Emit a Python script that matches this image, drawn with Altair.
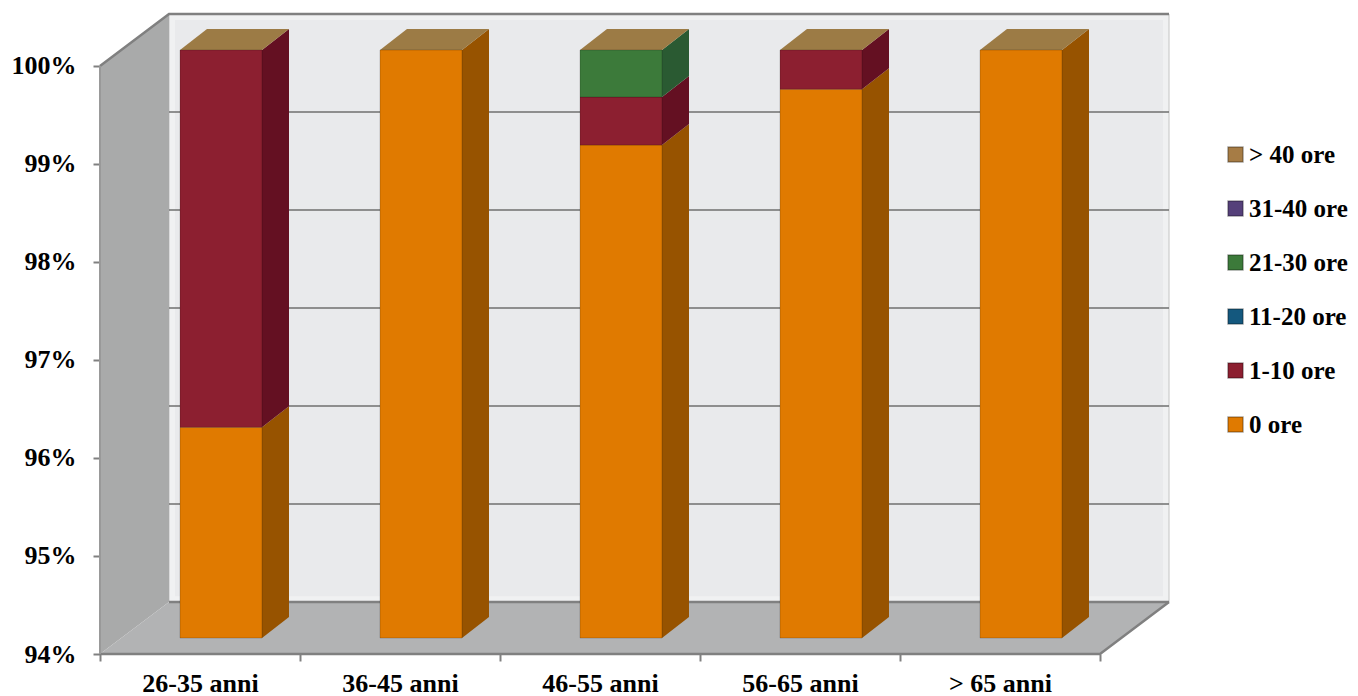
import altair as alt
import pandas as pd

categories = ["26-35 anni", "36-45 anni", "46-55 anni", "56-65 anni", "> 65 anni"]
series = ["> 40 ore", "31-40 ore", "21-30 ore", "11-20 ore", "1-10 ore", "0 ore"]
front_colors = ["#a67c45", "#55407a", "#3c7a3a", "#14587e", "#8c1f30", "#e07a00"]
side_colors = ["#7a5a30", "#3c2c58", "#2a5a32", "#0e4060", "#641022", "#975300"]
v_0 = [96.15, 100, 99.03, 99.6, 100]
v_1_10 = [3.85, 0, 0.49, 0.4, 0]
v_11_20 = [0, 0, 0, 0, 0]
v_21_30 = [0, 0, 0.48, 0, 0]
v_31_40 = [0, 0, 0, 0, 0]
v_40 = [0, 0, 0, 0, 0]
pct_ticks = [94, 95, 96, 97, 98, 99, 100]
TOP_COLOR = "#9c7b45"
FLOOR = "#b2b3b4"
WALL_SIDE = "#a9aaaa"
EDGE = "#808080"

# pseudo-3D projection, expressed in data units
WALL_DX, WALL_DY = 0.345, 0.53
BAR_DX, BAR_DY = 0.135, 0.214
BAR_LEFT, BAR_W, BAR_LIFT = 0.4, 0.41, 0.163
Y0, Y1 = 94, 100
XMAX, YMAX = 5.35, 100.53

xs = alt.Scale(domain=[0, XMAX], nice=False, zero=False)
ys = alt.Scale(domain=[Y0, YMAX], nice=False, zero=False)
X = alt.X("x:Q", scale=xs, axis=None)
Y = alt.Y("y:Q", scale=ys, axis=None, stack=None)

columns = [v_0, v_1_10, v_11_20, v_21_30, v_31_40, v_40]
names = series[::-1]
sc = dict(zip(series, side_colors))

fronts, sides, tops = [], [], []
for i, cat in enumerate(categories):
    total = 0
    x0 = i + BAR_LEFT
    x1 = x0 + BAR_W
    for name, col in zip(names, columns):
        v = col[i]
        if v <= 0:
            continue
        lo = max(total, Y0) + BAR_LIFT
        total += v
        hi = total + BAR_LIFT
        fronts.append(dict(x=x0, x2=x1, y=lo, y2=hi, s=name))
        sid = f"{i}-{name}"
        sides.append(dict(x=x1, y=lo, y2=hi, id=sid, c=sc[name]))
        sides.append(dict(x=x1 + BAR_DX, y=lo + BAR_DY, y2=hi + BAR_DY, id=sid, c=sc[name]))
    t = Y1 + BAR_LIFT
    tid = f"t{i}"
    tops += [
        dict(x=x0, y=t, y2=t, id=tid),
        dict(x=x0 + BAR_DX, y=t, y2=t + BAR_DY, id=tid),
        dict(x=x1, y=t, y2=t + BAR_DY, id=tid),
        dict(x=x1 + BAR_DX, y=t + BAR_DY, y2=t + BAR_DY, id=tid),
    ]

back = Y0 + WALL_DY
top = Y1 + WALL_DY
right = 5 + WALL_DX

wall = alt.Chart(pd.DataFrame([dict(x=WALL_DX, x2=right, y=back, y2=top)])).mark_rect(
    color="#f0f1f2", stroke="#c4c4c4", strokeWidth=1
).encode(x=alt.X("x:Q", scale=xs, axis=alt.Axis(
    orient="bottom", values=[0, 1, 2, 3, 4, 5], labels=False, domain=False, grid=False, title=None,
    tickColor=EDGE, tickWidth=2, tickSize=7)),
    x2="x2:Q",
    y=alt.Y("y:Q", scale=ys, stack=None, axis=alt.Axis(
        orient="left", values=pct_ticks, labelExpr="datum.value + '%'", domain=False, grid=False, title=None,
        tickColor=EDGE, tickWidth=2, tickSize=7, labelPadding=17, labelFont="Liberation Serif",
        labelFontWeight="bold", labelFontSize=26, labelColor="#000")),
    y2="y2:Q")

inner = alt.Chart(pd.DataFrame([dict(x=WALL_DX + 0.03, x2=right - 0.03, y=back + 0.06, y2=top - 0.06)])).mark_rect(
    color="#e9eaec"
).encode(x=X, x2="x2:Q", y=Y, y2="y2:Q")

grid_df = pd.DataFrame([dict(x=WALL_DX, x2=right, y=v + WALL_DY) for v in pct_ticks[1:-1]])
grid = alt.Chart(grid_df).mark_rule(color="#6f6f6f", strokeWidth=1.6).encode(x=X, x2="x2:Q", y=Y)

left_wall = alt.Chart(pd.DataFrame([
    dict(x=0, y=Y0, y2=Y1), dict(x=WALL_DX, y=back, y2=top)
])).mark_area(color=WALL_SIDE, orient="vertical").encode(x=X, y=Y, y2="y2:Q")

floor = alt.Chart(pd.DataFrame([
    dict(x=0, y=Y0, y2=Y0), dict(x=WALL_DX, y=Y0, y2=back),
    dict(x=5, y=Y0, y2=back), dict(x=right, y=back, y2=back),
])).mark_area(color=FLOOR, orient="vertical").encode(x=X, y=Y, y2="y2:Q")

edges_df = pd.DataFrame(
    [dict(x=0, y=Y1, k="a"), dict(x=WALL_DX, y=top, k="a"), dict(x=right, y=top, k="a"),
     dict(x=0, y=Y0, k="b"), dict(x=5, y=Y0, k="b"), dict(x=right, y=back, k="b"),
     dict(x=WALL_DX, y=back, k="c"), dict(x=right, y=back, k="c")]
)
edges = alt.Chart(edges_df).mark_line(color=EDGE, strokeWidth=2.5).encode(x=X, y=Y, detail="k:N")
left_edge = alt.Chart(pd.DataFrame([dict(x=0, y=Y0, y2=Y1)])).mark_rule(color="#999", strokeWidth=2).encode(x=X, y=Y, y2="y2:Q")

front = alt.Chart(pd.DataFrame(fronts)).mark_rect(stroke="rgba(0,0,0,0.18)", strokeWidth=1).encode(
    x=X, x2="x2:Q", y=Y, y2="y2:Q",
    color=alt.Color("s:N", scale=alt.Scale(domain=series, range=front_colors), sort=None, legend=alt.Legend(
        orient="none", legendX=1123, legendY=128, title=None, symbolType="square", symbolSize=230,
        symbolStrokeWidth=1.5, symbolStrokeColor="rgba(0,0,0,0.3)", labelFont="Liberation Serif",
        labelFontWeight="bold", labelFontSize=25, labelColor="#000", labelOffset=1, rowPadding=28,
        labelLimit=200)),
)
side = alt.Chart(pd.DataFrame(sides)).mark_area(orient="vertical").encode(
    x=X, y=Y, y2="y2:Q", detail="id:N", color=alt.Color("c:N", scale=None)
)
top_face = alt.Chart(pd.DataFrame(tops)).mark_area(orient="vertical", color=TOP_COLOR).encode(
    x=X, y=Y, y2="y2:Q", detail="id:N"
)

label_df = pd.DataFrame([dict(x=i + 0.5, y=Y0, c=c) for i, c in enumerate(categories)])
labels = alt.Chart(label_df).mark_rule(opacity=0).encode(
    x=alt.X("x:Q", scale=xs, axis=alt.Axis(
        orient="bottom", values=[i + 0.5 for i in range(len(categories))],
        labelExpr="['" + "','".join(categories) + "'][floor(datum.value)]",
        domain=False, grid=False, ticks=False, title=None, labelPadding=16, labelFont="Liberation Serif",
        labelFontWeight="bold", labelFontSize=26, labelColor="#000", labelFlush=False, labelOverlap=False)),
    y=Y,
)

chart = alt.layer(
    wall, inner, grid, left_wall, floor, edges, left_edge, labels, side, top_face, front
).resolve_axis(x="independent", y="independent").resolve_scale(color="independent").properties(
    width=1070, height=640,
    autosize=alt.AutoSizeParams(type="none"),
    padding={"left": 92, "top": 6, "right": 180, "bottom": 42},
    background="white",
).configure_view(stroke=None)

chart.save("out.html", embed_options={"renderer": "svg", "actions": False})
